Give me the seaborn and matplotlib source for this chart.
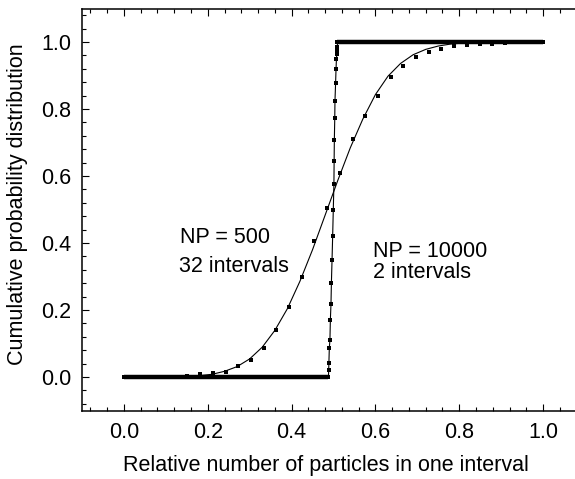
import numpy as np
import pandas as pd
import matplotlib
matplotlib.use("Agg")
import matplotlib.pyplot as plt
from matplotlib.ticker import MultipleLocator, FormatStrFormatter
import seaborn as sns

# ---- data ----
# NP = 500, 32 intervals: measured points (square markers)
np500_x = [k / 33 for k in range(34)]
np500_y = [0.000, 0.000, 0.000, 0.000, 0.001, 0.003, 0.008, 0.011, 0.016, 0.033,
           0.050, 0.086, 0.140, 0.210, 0.299, 0.407, 0.504, 0.608, 0.710, 0.779,
           0.839, 0.895, 0.929, 0.956, 0.970, 0.979, 0.988, 0.991, 0.993, 0.994,
           0.997, 0.999, 1.000, 1.000]

# NP = 500 smooth reference curve
fit_x = [0.00, 0.10, 0.15, 0.18, 0.21, 0.24, 0.27, 0.30, 0.33, 0.36, 0.39, 0.42,
         0.45, 0.48, 0.51, 0.54, 0.57, 0.60, 0.63, 0.66, 0.69, 0.72, 0.75, 0.78,
         0.82, 0.86, 0.90, 0.95, 1.00]
fit_y = [0.000, 0.000, 0.002, 0.004, 0.008, 0.017, 0.031, 0.054, 0.089, 0.139,
         0.204, 0.286, 0.380, 0.483, 0.586, 0.684, 0.770, 0.843, 0.898, 0.936,
         0.962, 0.978, 0.988, 0.994, 0.998, 0.999, 1.000, 1.000, 1.000]

# NP = 10000, 2 intervals: steep transition points
np10k_x = [0.4880, 0.4885, 0.4890, 0.4900, 0.4915, 0.4925, 0.4940, 0.4950, 0.4965,
           0.4980, 0.4995, 0.5010, 0.5015, 0.5020, 0.5030, 0.5035, 0.5050, 0.5060,
           0.5070, 0.5080, 0.5085, 0.5090, 0.5095]
np10k_y = [0.000, 0.021, 0.041, 0.086, 0.110, 0.170, 0.218, 0.281, 0.349, 0.421,
           0.500, 0.576, 0.646, 0.707, 0.772, 0.824, 0.877, 0.918, 0.950, 0.965,
           0.975, 0.985, 1.000]
# flat parts of NP = 10000 (dense points drawn as a heavy band)
low_x = [0.0, 0.488]
low_y = [0.0, 0.0]
high_x = [0.5095, 1.0]
high_y = [1.0, 1.0]

x_ticks = [0.0, 0.2, 0.4, 0.6, 0.8, 1.0]
y_ticks = [0.0, 0.2, 0.4, 0.6, 0.8, 1.0]

# ---- style ----
sns.set_style("ticks")
plt.rcParams['font.family'] = ['Liberation Sans', 'DejaVu Sans']
plt.rcParams['text.color'] = 'black'
plt.rcParams['axes.labelcolor'] = 'black'
plt.rcParams['xtick.color'] = 'black'
plt.rcParams['ytick.color'] = 'black'
FS = 15.5

fig = plt.figure(figsize=(5.75, 4.79), dpi=100)
ax = fig.add_axes([82 / 575, (479 - 410.5) / 479, (585 - 82) / 575, 402 / 479])

df_fit = pd.DataFrame({"x": fit_x, "y": fit_y})
df500 = pd.DataFrame({"x": np500_x, "y": np500_y})
df10k = pd.DataFrame({"x": np10k_x, "y": np10k_y})
df_low = pd.DataFrame({"x": low_x, "y": low_y})
df_high = pd.DataFrame({"x": high_x, "y": high_y})

sns.lineplot(data=df_fit, x="x", y="y", ax=ax, color="black", lw=0.8,
             estimator=None, sort=False)
sns.lineplot(data=df10k, x="x", y="y", ax=ax, color="black", lw=0.8,
             estimator=None, sort=False)
sns.scatterplot(data=df500, x="x", y="y", ax=ax, color="black", marker="s",
                s=12, linewidth=0, zorder=3)
sns.scatterplot(data=df10k, x="x", y="y", ax=ax, color="black", marker="s",
                s=12, linewidth=0, zorder=3)
sns.lineplot(data=df_low, x="x", y="y", ax=ax, color="black", lw=3.2,
             estimator=None, sort=False, solid_capstyle="butt", zorder=4)
sns.lineplot(data=df_high, x="x", y="y", ax=ax, color="black", lw=3.2,
             estimator=None, sort=False, solid_capstyle="butt", zorder=4)

ax.set_xlim(-0.1, 1.1)
ax.set_ylim(-0.1, 1.1)
ax.set_xticks(x_ticks)
ax.set_yticks(y_ticks)
ax.xaxis.set_minor_locator(MultipleLocator(0.04))
ax.yaxis.set_minor_locator(MultipleLocator(0.04))
ax.xaxis.set_major_formatter(FormatStrFormatter("%.1f"))
ax.yaxis.set_major_formatter(FormatStrFormatter("%.1f"))
ax.tick_params(which="both", direction="in", top=True, right=True,
               width=0.8, color="black", labelsize=FS, labelcolor="black")
ax.tick_params(which="major", length=5, pad=8)
ax.tick_params(which="minor", length=3)
for sp in ax.spines.values():
    sp.set_linewidth(1.1)
    sp.set_color("black")

ax.set_xlabel("Relative number of particles in one interval", fontsize=FS,
              color="black")
ax.set_ylabel("Cumulative probability distribution", fontsize=FS,
              color="black")
ax.xaxis.set_label_coords(0.485, -0.11)
ax.yaxis.set_label_coords(-0.107, 0.514)

ax.text(0.134, 0.399, "NP = 500", fontsize=FS, va="baseline", ha="left",
        color="black")
ax.text(0.132, 0.3125, "32 intervals", fontsize=FS, va="baseline", ha="left",
        color="black")
ax.text(0.595, 0.359, "NP = 10000", fontsize=FS, va="baseline", ha="left",
        color="black")
ax.text(0.595, 0.296, "2 intervals", fontsize=FS, va="baseline", ha="left",
        color="black")

fig.savefig("out.png", dpi=100)
